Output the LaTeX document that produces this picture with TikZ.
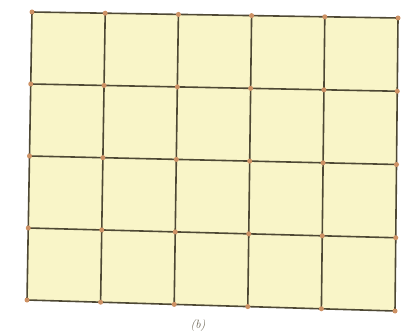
\documentclass[tikz,border=0pt]{standalone}
\usepackage{tikz}
\usetikzlibrary{calc}
\definecolor{paper}{RGB}{249,245,200}
\definecolor{ink}{RGB}{78,72,52}
\definecolor{knot}{RGB}{205,145,100}

\begin{document}
\begin{tikzpicture}[
    x=1pt, y=-1pt,
    gridline/.style = {draw=ink, line width=1.6pt, line cap=round},
    knotpt/.style = {circle, fill=knot, inner sep=0pt, minimum size=5pt},
    lbl/.style = {font=\large\itshape, text=ink!85}
  ]
  \useasboundingbox (0,0) rectangle (401,336);

  % the four corners of the (slightly skewed) sheet
  \coordinate (tl) at (32,12);
  \coordinate (tr) at (398,18);
  \coordinate (bl) at (27,300);
  \coordinate (br) at (395,311);

  \fill[paper] (tl) -- (tr) -- (br) -- (bl) -- cycle;

  % grid points p-i-j: column i = 0..5, row j = 0..4
  \foreach \i in {0,...,5} {
    \foreach \j in {0,...,4} {
      \coordinate (p-\i-\j) at ($ ($(tl)!\i/5!(tr)$)!\j/4!($(bl)!\i/5!(br)$) $);
    }
  }

  % rows and columns
  \foreach \j in {0,...,4}
    \draw[gridline] (p-0-\j) -- (p-1-\j) -- (p-2-\j) -- (p-3-\j) -- (p-4-\j) -- (p-5-\j);
  \foreach \i in {0,...,5}
    \draw[gridline] (p-\i-0) -- (p-\i-1) -- (p-\i-2) -- (p-\i-3) -- (p-\i-4);

  % dots on every crossing
  \foreach \i in {0,...,5}
    \foreach \j in {0,...,4}
      \node[knotpt] (k-\i-\j) at (p-\i-\j) {};

  \node[lbl] (caption) at (198,326) {(b)};
\end{tikzpicture}
\end{document}
